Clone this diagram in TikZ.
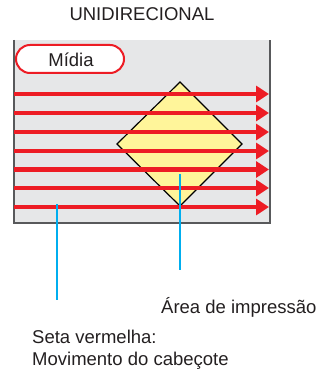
\documentclass[tikz,border=0pt]{standalone}
\usepackage{fontspec}
\setmainfont{Liberation Sans}
\usetikzlibrary{arrows.meta}
\definecolor{mediagray}{HTML}{E6E7E8}
\definecolor{bordergray}{HTML}{58595B}
\definecolor{headred}{HTML}{ED1C24}
\definecolor{areayellow}{HTML}{FFF59A}
\definecolor{leaderblue}{HTML}{00AEEF}
\definecolor{txt}{HTML}{231F20}
\tikzset{
  lbl/.style={inner sep=0pt, text=txt, font=\fontsize{18.5}{22}\selectfont},
  headarrow/.style={draw=headred, line width=4pt, -{Triangle[length=13pt,width=16pt]}},
  leader/.style={draw=leaderblue, line width=2pt},
  mediabox/.style={draw=headred, line width=2pt, fill=white, rounded corners=14pt},
  areashape/.style={draw=black, line width=1.2pt, fill=areayellow, line join=miter},
}
\begin{document}
\begin{tikzpicture}[x=1pt,y=-1pt]
\useasboundingbox (0,0) rectangle (320,371);
% title
\node[lbl] (title) at (142,14) {UNIDIRECIONAL};
% media sheet
\fill[mediagray] (14,40) rectangle (270,223);
\draw[bordergray, line width=1.8pt] (14,40) -- (14,223) -- (270,223) -- (270,40);
% media label
\draw[mediabox] (16,45) rectangle (124,73);
\node[lbl] (midia) at (71,59.5) {Mídia};
% print area
\draw[areashape] (180,82) -- (242,144) -- (180,206) -- (117,144) -- cycle;
% head movement arrows
\foreach \yy in {94,113,132,151,169.5,188,207}{
  \draw[headarrow] (14,\yy) -- (269,\yy);
}
% leaders
\coordinate (l1a) at (57,204);
\coordinate (l1b) at (57,300);
\coordinate (l2a) at (180,174);
\coordinate (l2b) at (180,270);
\draw[leader] (l1a) -- (l1b);
\draw[leader] (l2a) -- (l2b);
% labels
\node[lbl, anchor=base west] (area) at (161,313) {Área de impressão};
\node[lbl, anchor=base west] (seta1) at (32,343) {Seta vermelha:};
\node[lbl, anchor=base west] (seta2) at (32,365) {Movimento do cabeçote};
\end{tikzpicture}
\end{document}
